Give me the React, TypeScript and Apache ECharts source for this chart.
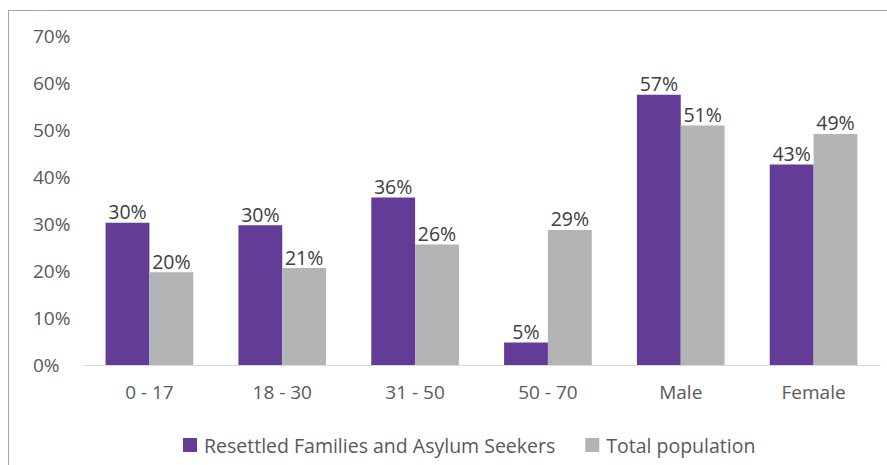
import React, { useEffect, useRef } from "react";
import * as echarts from "echarts";

const categories = ["0 - 17", "18 - 30", "31 - 50", "50 - 70", "Male", "Female"];
const resettled = [30.2, 29.7, 35.6, 4.8, 57.4, 42.6];
const totalPop = [19.7, 20.6, 25.6, 28.7, 50.9, 49.1];
const seriesNames = ["Resettled Families and Asylum Seekers", "Total population"];
const yTicks = [0, 10, 20, 30, 40, 50, 60, 70];

const FONT = "'Open Sans', sans-serif";
const TEXT = "#595959";

export default function App() {
  const ref = useRef<HTMLDivElement>(null);
  useEffect(() => {
    if (!ref.current) return;
    const chart = echarts.init(ref.current, null, { renderer: "svg" });
    const label = {
      show: true,
      position: "top",
      distance: 1,
      color: "#404040",
      fontFamily: FONT,
      fontSize: 19.5,
      formatter: (p: any) => Math.round(p.value) + "%",
    };
    chart.setOption({
      animation: false,
      textStyle: { fontFamily: FONT },
      grid: { left: 83, right: 7, top: 35.5, bottom: 100, containLabel: false },
      legend: {
        bottom: 5,
        left: 178,
        itemWidth: 14,
        itemHeight: 14,
        itemGap: 30,
        icon: "rect",
        textStyle: { color: TEXT, fontSize: 19.5, fontFamily: FONT, padding: [0, 0, 0, 2] },
        data: seriesNames,
      },
      xAxis: {
        type: "category",
        data: categories,
        axisLine: { lineStyle: { color: "#d9d9d9", width: 1 } },
        axisTick: { show: false },
        axisLabel: { color: TEXT, fontSize: 19, fontFamily: FONT, margin: 17 },
      },
      yAxis: {
        type: "value",
        min: yTicks[0],
        max: yTicks[yTicks.length - 1],
        interval: 10,
        splitLine: { show: false },
        axisLine: { show: false },
        axisTick: { show: false },
        axisLabel: {
          color: TEXT,
          fontSize: 19,
          fontFamily: FONT,
          align: "left",
          margin: 50,
          formatter: (v: number) => v + "%",
        },
      },
      series: [
        {
          name: seriesNames[0],
          type: "bar",
          data: resettled,
          barGap: "0%",
          barCategoryGap: "34%",
          itemStyle: { color: "#623c97" },
          label,
        },
        {
          name: seriesNames[1],
          type: "bar",
          data: totalPop,
          itemStyle: { color: "#b2b4b5" },
          label,
        },
      ],
    });
    return () => chart.dispose();
  }, []);
  return (
    <div style={{ position: "fixed", left: 0, top: 0, width: 887, height: 465, background: "#fff", overflow: "hidden" }}>
      <div
        style={{
          position: "absolute",
          left: 8,
          top: 10,
          width: 1000,
          height: 1000,
          borderLeft: "1.5px solid #a6a6a6",
          borderTop: "1.5px solid #a6a6a6",
        }}
      />
      <div ref={ref} style={{ position: "absolute", left: 0, top: 0, width: 887, height: 465 }} />
    </div>
  );
}
